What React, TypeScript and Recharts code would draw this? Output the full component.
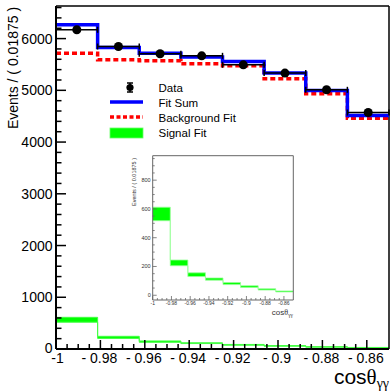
import {
  ComposedChart,
  XAxis,
  YAxis,
  Line,
  Area,
  Scatter,
  ErrorBar,
  ReferenceLine,
} from "recharts";

// bins of width 0.01875 on cos(theta_gg)
const binEdges = [-1, -0.98125, -0.9625, -0.94375, -0.925, -0.90625, -0.8875, -0.86875, -0.85];
const binCenters = [-0.990625, -0.971875, -0.953125, -0.934375, -0.915625, -0.896875, -0.878125, -0.859375];
const binHalfWidth = 0.009375;

const dataCounts = [6170, 5847, 5706, 5667, 5493, 5333, 5010, 4571];
const fitSum = [6267, 5828, 5719, 5642, 5557, 5333, 4996, 4513];
const backgroundFit = [5719, 5590, 5571, 5513, 5474, 5222, 4932, 4462];
const signalLow = [518, 205, 130, 105, 74, 54, 36, 23];
const signalHigh = [612, 245, 156, 120, 88, 66, 45, 30];

const xMajorTicks = [-1, -0.98, -0.96, -0.94, -0.92, -0.9, -0.88, -0.86];
const xMainLabels = ["-1", "- 0.98", "- 0.96", "- 0.94", "- 0.92", "- 0.9", "- 0.88", "- 0.86"];
const xInsetLabels = ["-1", "-0.98", "-0.96", "-0.94", "-0.92", "-0.9", "-0.88", "-0.86"];
const yMainLabels = ["0", "1000", "2000", "3000", "4000", "5000", "6000"];
const yInsetLabels = ["0", "200", "400", "600", "800"];

const FONT = "'Liberation Sans', Arial, sans-serif";
const MAIN_Y_MAX = 6630;

// histogram rows: one per bin edge, last edge repeats the last bin
const histRows = binEdges.map((x, i) => {
  const k = Math.min(i, fitSum.length - 1);
  return { x, fit: fitSum[k], bg: backgroundFit[k], sig: [signalLow[k], signalHigh[k]] };
});

const dataPoints = binCenters.map((x, i) => ({ x, y: dataCounts[i], ex: binHalfWidth }));

const steps = (from: number, to: number, step: number) => {
  const out: number[] = [];
  const n = Math.round((to - from) / step);
  for (let i = 0; i <= n; i++) out.push(Math.round((from + i * step) * 1e6) / 1e6);
  return out;
};

const xTickPositions = steps(-1, -0.86, 0.005);
const yMainTickPositions = steps(0, 6600, 200);
const yInsetTickPositions = steps(0, 950, 50);

const majorIndexX = (v: number) => xMajorTicks.findIndex((t) => Math.abs(t - v) < 1e-7);

const MainXTick = ({ x, y, payload }: any) => {
  const idx = majorIndexX(payload.value);
  return (
    <g>
      <line x1={x} x2={x} y1={y} y2={y - (idx >= 0 ? 9 : 5)} stroke="#000" strokeWidth={1.5} />
      {idx >= 0 && (
        <text
          x={idx === 0 ? x + 1.5 : x - 1}
          y={y + 13.5}
          textAnchor="middle"
          fontSize={14}
          fontFamily={FONT}
          fill="#000"
        >
          {xMainLabels[idx]}
        </text>
      )}
    </g>
  );
};

const MainYTick = ({ x, y, payload }: any) => {
  const major = payload.value % 1000 === 0;
  return (
    <g>
      <line x1={x} x2={x + (major ? 10 : 5.5)} y1={y} y2={y} stroke="#000" strokeWidth={1.5} />
      {major && (
        <text
          x={x - 3.5}
          y={payload.value === 0 ? y + 3.5 : y + 5}
          textAnchor="end"
          fontSize={14}
          fontFamily={FONT}
          fill="#000"
        >
          {yMainLabels[payload.value / 1000]}
        </text>
      )}
    </g>
  );
};

const InsetXTick = ({ x, y, payload }: any) => {
  const idx = majorIndexX(payload.value);
  return (
    <g>
      <line x1={x} x2={x} y1={y} y2={y - (idx >= 0 ? 4 : 2)} stroke="#666" strokeWidth={0.8} />
      {idx >= 0 && (
        <text x={x} y={y + 5} textAnchor="middle" fontSize={5} fontFamily={FONT} fill="#333">
          {xInsetLabels[idx]}
        </text>
      )}
    </g>
  );
};

const InsetYTick = ({ x, y, payload }: any) => {
  const major = payload.value % 200 === 0;
  return (
    <g>
      <line x1={x} x2={x + (major ? 4 : 2)} y1={y} y2={y} stroke="#666" strokeWidth={0.8} />
      {major && (
        <text x={x - 2} y={y + 2} textAnchor="end" fontSize={5.5} fontFamily={FONT} fill="#333">
          {yInsetLabels[payload.value / 200]}
        </text>
      )}
    </g>
  );
};

function Overlay() {
  return (
    <svg
      width={390}
      height={392}
      style={{ position: "absolute", left: 0, top: 0, pointerEvents: "none" }}
    >
      {/* main axis titles */}
      <text
        transform="translate(18,68) rotate(-90)"
        textAnchor="middle"
        fontSize={14}
        fontFamily={FONT}
        fill="#000"
      >
        Events / ( 0.01875 )
      </text>
      <text x={389} y={384} textAnchor="end" fontSize={21} fontFamily={FONT} fill="#000">
        cos
        <tspan fontFamily="'Liberation Serif', serif">θ</tspan>
        <tspan fontFamily="'Liberation Serif', serif" fontSize={14} dy={4}>
          γγ
        </tspan>
      </text>

      {/* inset axis titles */}
      <text
        transform="translate(136,182) rotate(-90)"
        textAnchor="middle"
        fontSize={5.5}
        fontFamily={FONT}
        fill="#333"
      >
        Events / ( 0.01875 )
      </text>
      <text x={293} y={315} textAnchor="end" fontSize={8} fontFamily={FONT} fill="#333">
        cos
        <tspan fontFamily="'Liberation Serif', serif">θ</tspan>
        <tspan fontFamily="'Liberation Serif', serif" fontSize={5.5} dy={2}>
          γγ
        </tspan>
      </text>

      {/* legend */}
      <line x1={130} x2={130} y1={83} y2={92} stroke="#000" strokeWidth={1.5} />
      <line x1={127} x2={133} y1={83} y2={83} stroke="#000" strokeWidth={1.5} />
      <line x1={127} x2={133} y1={92} y2={92} stroke="#000" strokeWidth={1.5} />
      <circle cx={130} cy={87.5} r={3.6} fill="#000" />
      <line x1={110} x2={143} y1={102} y2={102} stroke="#0000ff" strokeWidth={3.5} />
      <line x1={110} x2={143} y1={117} y2={117} stroke="#ff0000" strokeWidth={3.5} strokeDasharray="4 2.5" />
      <rect x={110} y={128} width={33} height={10} fill="#00ff00" stroke="#66ff66" strokeWidth={0.8} />
      {["Data", "Fit Sum", "Background Fit", "Signal Fit"].map((t, i) => (
        <text key={t} x={158.5} y={91.5 + i * 15} fontSize={11.5} fontFamily={FONT} fill="#000">
          {t}
        </text>
      ))}
    </svg>
  );
}

export default function App() {
  return (
    <div style={{ position: "absolute", left: 0, top: 0, width: 390, height: 392, background: "#fff" }}>
      <ComposedChart
        width={390}
        height={392}
        data={histRows}
        margin={{ top: 6, right: 1, left: 0, bottom: 0 }}
      >
        <XAxis
          type="number"
          dataKey="x"
          domain={[-1, -0.85]}
          allowDataOverflow
          ticks={xTickPositions}
          interval={0}
          tickSize={0}
          tickMargin={0}
          tick={<MainXTick />}
          height={43}
          stroke="#000"
          strokeWidth={2}
        />
        <YAxis
          type="number"
          domain={[0, MAIN_Y_MAX]}
          allowDataOverflow
          ticks={yMainTickPositions}
          interval={0}
          tickSize={0}
          tickMargin={0}
          tick={<MainYTick />}
          width={56}
          stroke="#000"
          strokeWidth={2}
        />
        <ReferenceLine y={MAIN_Y_MAX} stroke="#000" strokeWidth={1.5} />
        <ReferenceLine x={-0.85} stroke="#000" strokeWidth={1.5} />

        {/* Signal Fit band */}
        <Area
          type="stepAfter"
          dataKey="sig"
          fill="#00ff00"
          fillOpacity={1}
          stroke="#44ff44"
          strokeWidth={1}
          isAnimationActive={false}
        />
        {/* Background Fit */}
        <Line
          type="stepAfter"
          dataKey="bg"
          stroke="#ff0000"
          strokeWidth={3.5}
          strokeDasharray="5 3"
          dot={false}
          isAnimationActive={false}
        />
        {/* Fit Sum */}
        <Line
          type="stepAfter"
          dataKey="fit"
          stroke="#0000ff"
          strokeWidth={3.5}
          dot={false}
          isAnimationActive={false}
        />
        {/* Data */}
        <Scatter data={dataPoints} dataKey="y" fill="#000" isAnimationActive={false}>
          <ErrorBar dataKey="ex" direction="x" width={3} stroke="#000" strokeWidth={1.5} />
        </Scatter>
      </ComposedChart>

      {/* inset: signal fit alone */}
      <div style={{ position: "absolute", left: 110, top: 150, width: 190, height: 180 }}>
        <ComposedChart
          width={190}
          height={180}
          data={histRows}
          margin={{ top: 5.7, right: 6.7, left: 0, bottom: 0 }}
        >
          <XAxis
            type="number"
            dataKey="x"
            domain={[-1, -0.85]}
            allowDataOverflow
            ticks={xTickPositions}
            interval={0}
            tickSize={0}
            tickMargin={0}
            tick={<InsetXTick />}
            height={30}
            stroke="#666"
            strokeWidth={1}
          />
          <YAxis
            type="number"
            domain={[-33, 970]}
            allowDataOverflow
            ticks={yInsetTickPositions}
            interval={0}
            tickSize={0}
            tickMargin={0}
            tick={<InsetYTick />}
            width={42.7}
            stroke="#666"
            strokeWidth={1}
          />
          <ReferenceLine y={970} stroke="#666" strokeWidth={1} />
          <ReferenceLine x={-0.85} stroke="#666" strokeWidth={1} />
          <Area
            type="stepAfter"
            dataKey="sig"
            fill="#00ff00"
            fillOpacity={1}
            stroke="#99ff99"
            strokeWidth={0.8}
            isAnimationActive={false}
          />
        </ComposedChart>
      </div>

      <Overlay />
    </div>
  );
}
